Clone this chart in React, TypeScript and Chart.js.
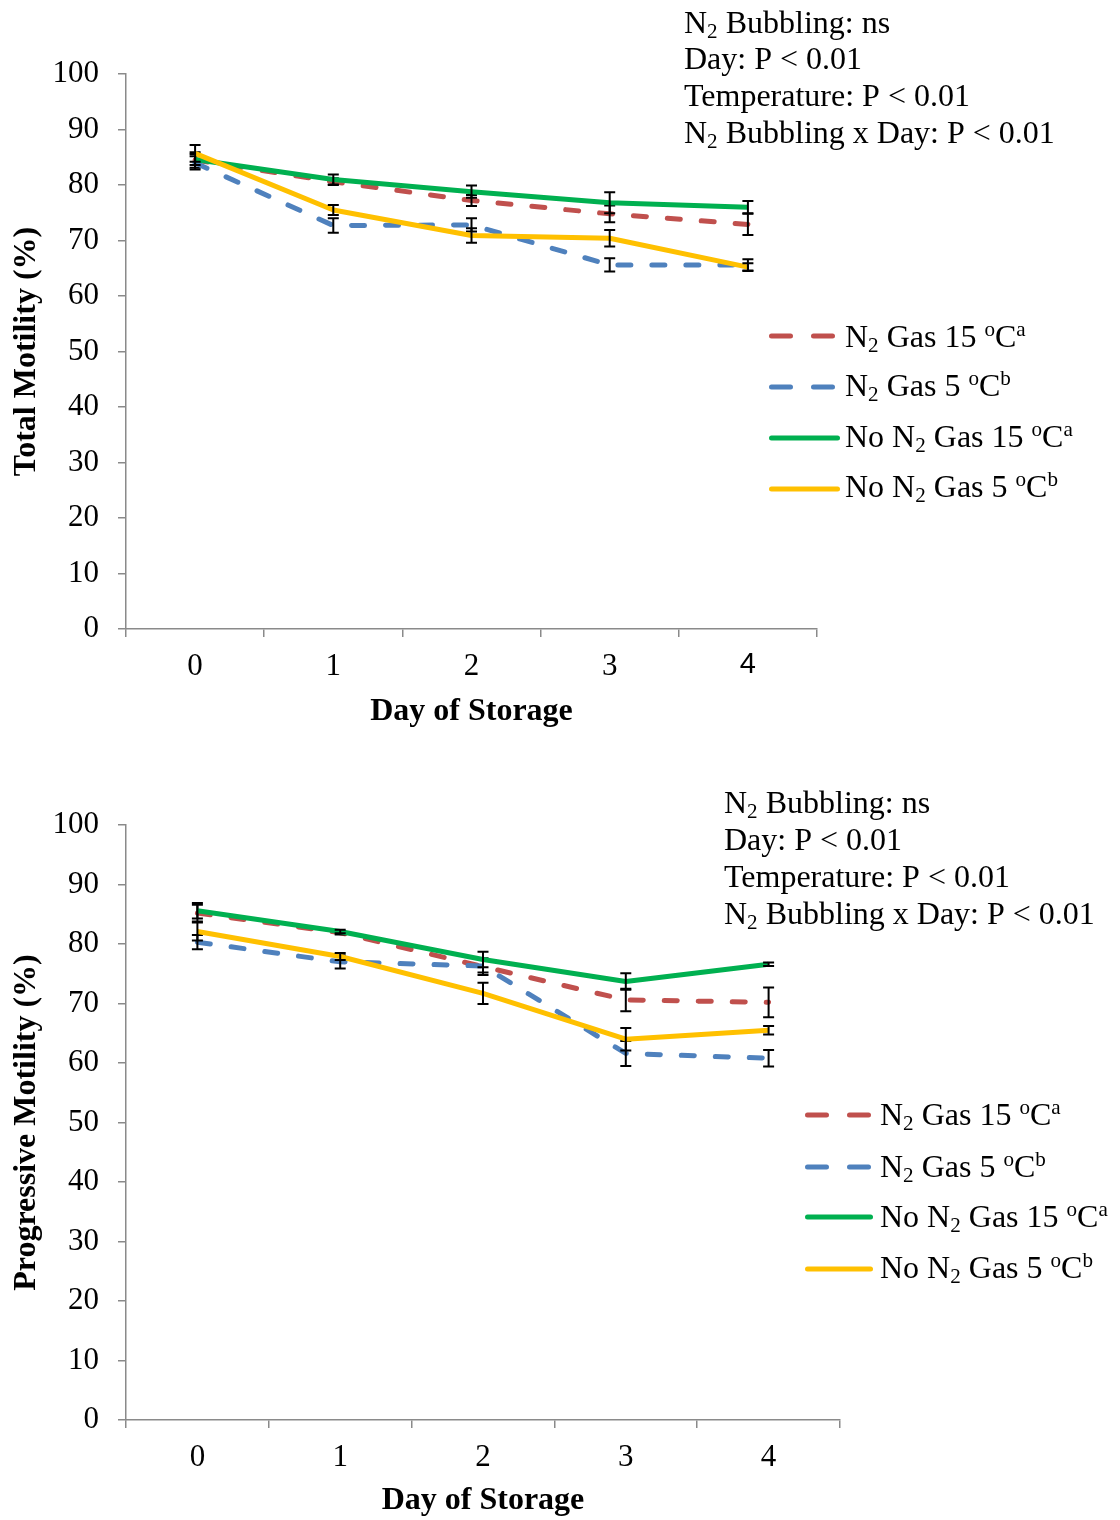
import React, { useEffect, useRef } from "react";
import { Chart, registerables } from "chart.js";

Chart.register(...registerables);

// ---------- data ----------
const days = ["0", "1", "2", "3", "4"];
const seriesNames = [
  "N_{2} Gas 15 ^{o}C^{a}",
  "N_{2} Gas 5 ^{o}C^{b}",
  "No N_{2} Gas 15 ^{o}C^{a}",
  "No N_{2} Gas 5 ^{o}C^{b}",
];
const statNotes = [
  "N_{2} Bubbling: ns",
  "Day: P < 0.01",
  "Temperature: P < 0.01",
  "N_{2} Bubbling x Day: P < 0.01",
];
const xTitle = "Day of Storage";
const topYTitle = "Total Motility (%)";
const bottomYTitle = "Progressive Motility (%)";

const totalN2_15 = [84.5, 80.6, 77.2, 74.8, 72.9];
const totalN2_5 = [84.0, 72.7, 72.8, 65.6, 65.6];
const totalNo_15 = [84.6, 81.0, 78.8, 76.8, 76.0];
const totalNo_5 = [85.7, 75.5, 70.9, 70.4, 65.2];
const totalErrN2_15 = [1.4, 0.6, 1.0, 1.5, 1.9];
const totalErrN2_5 = [1.2, 1.3, 1.2, 1.2, 1.0];
const totalErrNo_15 = [1.0, 0.9, 1.1, 1.9, 1.1];
const totalErrNo_5 = [1.5, 0.9, 1.3, 1.5, 0.7];

const progN2_15 = [85.2, 81.9, 76.2, 70.6, 70.2];
const progN2_5 = [80.3, 77.0, 76.3, 61.6, 60.8];
const progNo_15 = [85.6, 82.1, 77.4, 73.7, 76.6];
const progNo_5 = [82.1, 77.9, 71.7, 64.0, 65.5];
const progErrN2_15 = [1.4, 0.3, 1.4, 1.9, 2.5];
const progErrN2_5 = [1.2, 1.1, 1.1, 2.1, 1.4];
const progErrNo_15 = [1.3, 0.3, 1.3, 1.4, 0.3];
const progErrNo_5 = [1.5, 0.6, 1.8, 1.9, 0.7];

// ---------- styles ----------
const colors = ["#C0504D", "#4F81BD", "#00B050", "#FFC000"];
const dashed = [true, true, false, false];
const drawOrder = [4, 3, 2, 1];
const SERIF = '"Liberation Serif", "Times New Roman", serif';
const AXIS_GRAY = "#8a8a8a";
const TEXT_SIZE = 32;

type Seg = { t: string; k: string };
function parseRich(s: string): Seg[] {
  const segs: Seg[] = [];
  const re = /([_^])\{([^}]*)\}|([^_^]+)/g;
  let m: RegExpExecArray | null;
  while ((m = re.exec(s))) {
    if (m[1]) segs.push({ t: m[2], k: m[1] === "_" ? "sub" : "sup" });
    else segs.push({ t: m[3], k: "" });
  }
  return segs;
}

function drawRich(ctx: CanvasRenderingContext2D, s: string, x: number, baseline: number, size: number) {
  let cx = x;
  ctx.textBaseline = "alphabetic";
  ctx.textAlign = "left";
  ctx.fillStyle = "#000";
  for (const seg of parseRich(s)) {
    const fs = seg.k ? size * 0.66 : size;
    ctx.font = `${fs}px ${SERIF}`;
    const dy = seg.k === "sub" ? size * 0.15 : seg.k === "sup" ? -size * 0.34 : 0;
    ctx.fillText(seg.t, cx, baseline + dy);
    cx += ctx.measureText(seg.t).width;
  }
}

type Cfg = {
  yTitle: string;
  series: number[][];
  errors: number[][];
  height: number;
  top: number;
  bottom: number;
  right: number;
  xTitlePadBottom: number;
  notesX: number;
  notesBaselines: number[];
  legendLineX: number;
  legendLineEnd: number;
  legendTextX: number;
  legendLineY: number[];
  legendBaseY: number[];
  sansLastTick: boolean;
};

function ChartPanel({ cfg }: { cfg: Cfg }) {
  const ref = useRef<HTMLCanvasElement | null>(null);
  useEffect(() => {
    if (!ref.current) return;
    const overlay = {
      id: "overlay",
      afterDatasetDraw(chart: any, args: any) {
        const idx = args.index;
        const errs = cfg.errors[idx];
        const ys = chart.scales.y;
        const ctx: CanvasRenderingContext2D = chart.ctx;
        ctx.save();
        ctx.strokeStyle = "#000";
        ctx.lineWidth = 2;
        ctx.setLineDash([]);
        args.meta.data.forEach((pt: any, i: number) => {
          const v = cfg.series[idx][i];
          const e = errs[i];
          const x = pt.x;
          const y1 = ys.getPixelForValue(v + e);
          const y2 = ys.getPixelForValue(v - e);
          ctx.beginPath();
          ctx.moveTo(x, y1);
          ctx.lineTo(x, y2);
          ctx.moveTo(x - 5.5, y1);
          ctx.lineTo(x + 5.5, y1);
          ctx.moveTo(x - 5.5, y2);
          ctx.lineTo(x + 5.5, y2);
          ctx.stroke();
        });
        ctx.restore();
      },
      afterDraw(chart: any) {
        const ctx: CanvasRenderingContext2D = chart.ctx;
        ctx.save();
        statNotes.forEach((n, i) => drawRich(ctx, n, cfg.notesX, cfg.notesBaselines[i], TEXT_SIZE));
        seriesNames.forEach((name, i) => {
          ctx.save();
          ctx.strokeStyle = colors[i];
          ctx.lineWidth = 5;
          ctx.lineCap = "round";
          if (dashed[i]) ctx.setLineDash([19, 23]);
          ctx.beginPath();
          const y = cfg.legendLineY[i];
          ctx.moveTo(cfg.legendLineX + 2.5, y);
          ctx.lineTo(cfg.legendLineEnd - 2.5, y);
          ctx.stroke();
          ctx.restore();
          drawRich(ctx, name, cfg.legendTextX, cfg.legendBaseY[i], TEXT_SIZE);
        });
        ctx.restore();
      },
    };

    const chart = new Chart(ref.current, {
      type: "line",
      data: {
        labels: days,
        datasets: cfg.series.map((d, i) => ({
          label: seriesNames[i],
          data: d,
          borderColor: colors[i],
          backgroundColor: colors[i],
          borderWidth: 5,
          borderDash: dashed[i] ? [13, 21] : [],
          borderCapStyle: dashed[i] ? "round" : "butt",
          borderJoinStyle: "round",
          pointRadius: 0,
          tension: 0,
          fill: false,
          order: drawOrder[i],
        })),
      },
      options: {
        responsive: false,
        animation: false,
        devicePixelRatio: 1,
        layout: { padding: { top: cfg.top, right: 1120 - cfg.right, left: 0, bottom: 0 } },
        plugins: { legend: { display: false }, tooltip: { enabled: false } },
        scales: {
          x: {
            type: "category",
            offset: true,
            afterFit: (s: any) => {
              s.height = cfg.height - cfg.bottom;
            },
            grid: {
              offset: true,
              drawOnChartArea: false,
              drawTicks: true,
              tickLength: 8,
              color: AXIS_GRAY,
              lineWidth: 1.5,
            },
            border: { display: true, color: AXIS_GRAY, width: 1.5 },
            ticks: {
              color: "#000",
              padding: 11,
              maxRotation: 0,
              font: (c: any) =>
                cfg.sansLastTick && c.index === 4
                  ? { family: '"Liberation Sans", Arial, sans-serif', size: 29 }
                  : { family: SERIF, size: 31 },
            },
            title: {
              display: true,
              text: xTitle,
              color: "#000",
              font: { family: SERIF, size: 32, weight: "bold" },
              padding: { top: 0, bottom: cfg.xTitlePadBottom },
            },
          },
          y: {
            min: 0,
            max: 100,
            afterFit: (s: any) => {
              s.width = 126;
            },
            grid: {
              drawOnChartArea: false,
              drawTicks: true,
              tickLength: 8,
              color: AXIS_GRAY,
              lineWidth: 1.5,
            },
            border: { display: true, color: AXIS_GRAY, width: 1.5 },
            ticks: {
              stepSize: 10,
              color: "#000",
              padding: 19,
              font: { family: SERIF, size: 31 },
            },
            title: {
              display: true,
              text: cfg.yTitle,
              color: "#000",
              font: { family: SERIF, size: 32, weight: "bold" },
              padding: { top: 8, bottom: 0 },
            },
          },
        },
      },
      plugins: [overlay],
    } as any);
    return () => chart.destroy();
  }, [cfg]);
  return <canvas ref={ref} width={1120} height={cfg.height} style={{ display: "block" }} />;
}

const topCfg: Cfg = {
  yTitle: topYTitle,
  series: [totalN2_15, totalN2_5, totalNo_15, totalNo_5],
  errors: [totalErrN2_15, totalErrN2_5, totalErrNo_15, totalErrNo_5],
  height: 760,
  top: 74,
  bottom: 629,
  right: 817,
  xTitlePadBottom: 29,
  notesX: 684,
  notesBaselines: [33, 69, 106, 143],
  legendLineX: 769,
  legendLineEnd: 840,
  legendTextX: 845,
  legendLineY: [336, 387, 438, 489],
  legendBaseY: [347, 396, 447, 497],
  sansLastTick: true,
};

const bottomCfg: Cfg = {
  yTitle: bottomYTitle,
  series: [progN2_15, progN2_5, progNo_15, progNo_5],
  errors: [progErrN2_15, progErrN2_5, progErrNo_15, progErrNo_5],
  height: 760,
  top: 65,
  bottom: 660,
  right: 840,
  xTitlePadBottom: 0,
  notesX: 724,
  notesBaselines: [53, 90, 127, 164],
  legendLineX: 805,
  legendLineEnd: 873,
  legendTextX: 880,
  legendLineY: [355, 407, 457, 509],
  legendBaseY: [365, 417, 467, 518],
  sansLastTick: false,
};

export default function App() {
  return (
    <div style={{ position: "absolute", left: 0, top: 0, width: 1120, height: 1520, background: "#fff" }}>
      <ChartPanel cfg={topCfg} />
      <ChartPanel cfg={bottomCfg} />
    </div>
  );
}
